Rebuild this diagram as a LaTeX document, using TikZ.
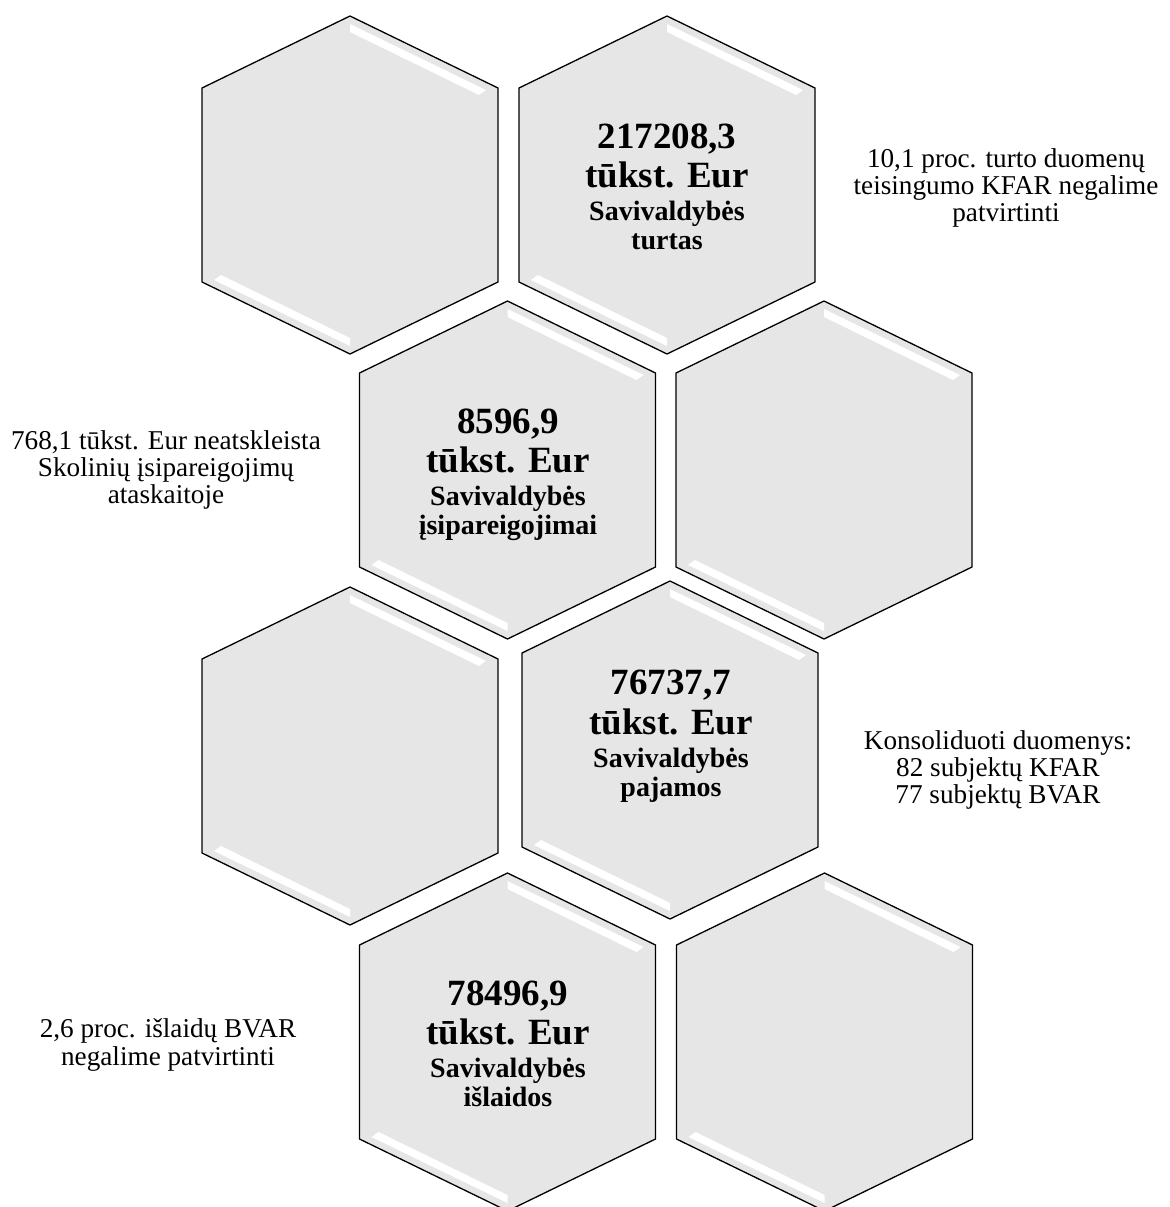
\documentclass[tikz,border=0pt]{standalone}
\usepackage{fontspec}
\setmainfont{Liberation Serif}
\usepackage{tikz}
\usetikzlibrary{positioning}
\definecolor{hexgray}{RGB}{230,230,230}
\tikzset{
	hexcell/.pic={
		\draw[fill=hexgray, line width=0.65pt] (0,-169) -- (148,-97) -- (148,97) -- (0,169) -- (-148,97) -- (-148,-97) -- cycle;
		\fill[white] (0,-161) -- (136,-95) -- (129,-90) -- (0,-153) -- cycle;
		\fill[white] (0,161) -- (-136,95) -- (-129,90) -- (0,153) -- cycle;
	},
	numtext/.style={font=\bfseries\fontsize{18.5}{19.75}\selectfont, align=center, inner sep=0pt, anchor=north},
	subtext/.style={font=\bfseries\fontsize{14}{14.5}\selectfont, align=center, inner sep=0pt},
	sidetext/.style={font=\fontsize{13.6}{13.6}\selectfont, align=center, inner sep=0pt}
}
\begin{document}
\begin{tikzpicture}[x=0.5pt, y=-0.5pt]
				\useasboundingbox (0,0) rectangle (1170,1207);
				% Hexagons:
				\pic at (350, 185) {hexcell};
				\pic at (667, 185) {hexcell};
				\pic at (507.5, 470) {hexcell};
				\pic at (824, 470) {hexcell};
				\pic at (350, 756) {hexcell};
				\pic at (670, 750) {hexcell};
				\pic at (507.5, 1042) {hexcell};
				\pic at (824.5, 1042) {hexcell};
				% Values and names:
				\node[numtext](N1) at (667, 123){217208,3\\tūkst. Eur};
				\node[subtext, below=6pt of N1](N2){Savivaldybės\\turtas};
				\node[numtext](N3) at (508, 408){8596,9\\tūkst. Eur};
				\node[subtext, below=6pt of N3](N4){Savivaldybės\\įsipareigojimai};
				\node[numtext](N5) at (671, 670){76737,7\\tūkst. Eur};
				\node[subtext, below=6pt of N5](N6){Savivaldybės\\pajamos};
				\node[numtext](N7) at (508, 980){78496,9\\tūkst. Eur};
				\node[subtext, below=6pt of N7](N8){Savivaldybės\\išlaidos};
				% Side notes:
				\node[sidetext](N9) at (1006, 188){10,1 proc. turto duomenų\\teisingumo KFAR negalime\\patvirtinti};
				\node[sidetext](N10) at (166, 470){768,1 tūkst. Eur neatskleista\\Skolinių įsipareigojimų\\ataskaitoje};
				\node[sidetext](N11) at (998, 770){Konsoliduoti duomenys:\\82 subjektų KFAR\\77 subjektų BVAR};
				\node[sidetext](N12) at (168, 1045){2,6 proc. išlaidų BVAR\\negalime patvirtinti};
			\end{tikzpicture}
\end{document}
